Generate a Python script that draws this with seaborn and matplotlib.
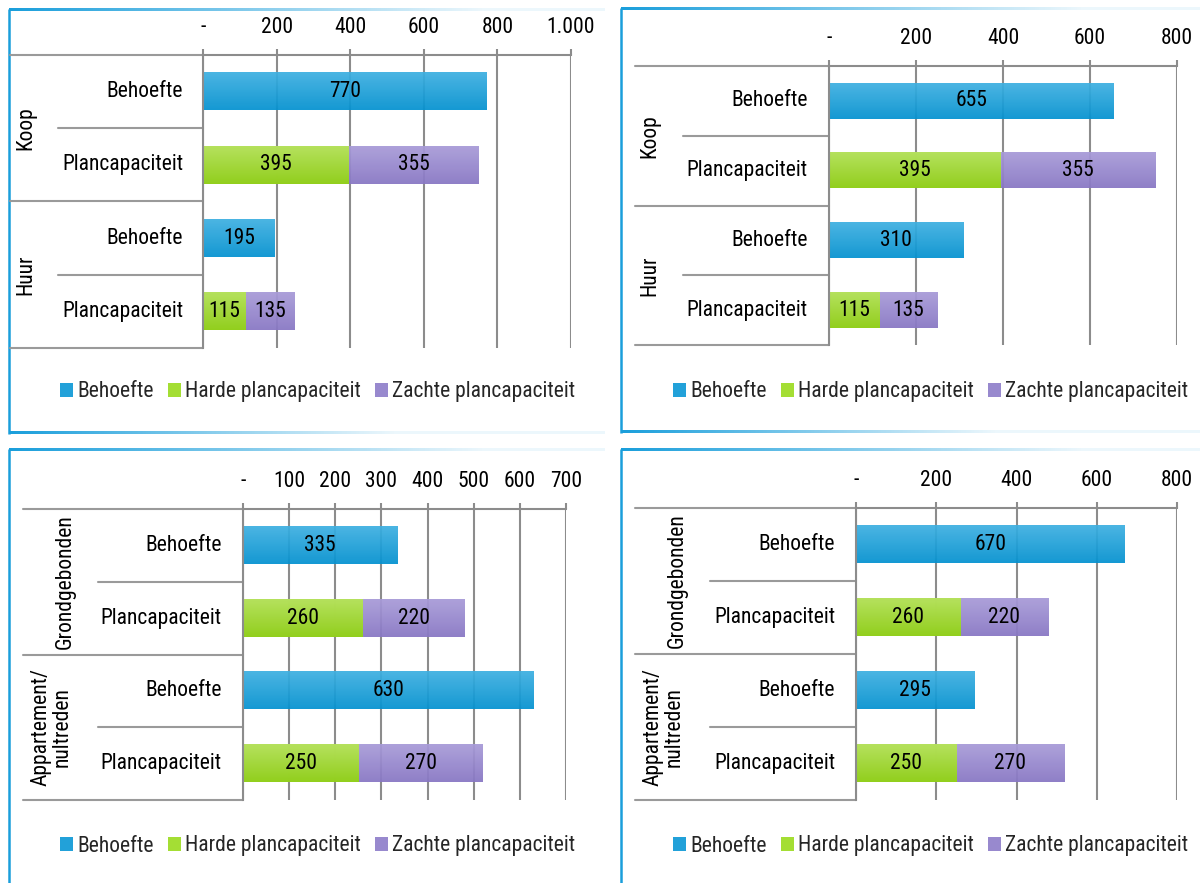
import numpy as np
import pandas as pd
import matplotlib
matplotlib.use("Agg")
import matplotlib.pyplot as plt
import seaborn as sns
from matplotlib import font_manager as fm
from matplotlib.patches import Patch
from matplotlib.lines import Line2D
from matplotlib import transforms
from matplotlib.colors import to_rgb

# ---------------------------------------------------------------- data
series_names = ["Behoefte", "Harde plancapaciteit", "Zachte plancapaciteit"]
row_labels = ["Behoefte", "Plancapaciteit"]

groups_tl = ["Koop", "Huur"]
behoefte_tl = [770, 195]
harde_tl = [395, 115]
zachte_tl = [355, 135]
ticks_tl = [0, 200, 400, 600, 800, 1000]

groups_tr = ["Koop", "Huur"]
behoefte_tr = [655, 310]
harde_tr = [395, 115]
zachte_tr = [355, 135]
ticks_tr = [0, 200, 400, 600, 800]

groups_bl = ["Grondgebonden", "Appartement/\nnultreden"]
behoefte_bl = [335, 630]
harde_bl = [260, 250]
zachte_bl = [220, 270]
ticks_bl = [0, 100, 200, 300, 400, 500, 600, 700]

groups_br = ["Grondgebonden", "Appartement/\nnultreden"]
behoefte_br = [670, 295]
harde_br = [260, 250]
zachte_br = [220, 270]
ticks_br = [0, 200, 400, 600, 800]

# ---------------------------------------------------------------- style
W, H = 1200, 883
sns.set_theme(style="white")


def pick_narrow_font():
    """Prefer a condensed sans face; fall back to Roboto."""
    faces = fm.fontManager.ttflist
    by_name = {f.name for f in faces}
    for name in ("Roboto Condensed", "Liberation Sans Narrow", "Open Sans Condensed",
                 "Noto Sans Condensed", "Arial Narrow"):
        if name in by_name:
            return name, "normal"
    for f in faces:
        if f.name in ("DejaVu Sans", "Noto Sans", "Open Sans", "Roboto") and \
                str(f.stretch).lower() in ("condensed", "semi-condensed", "75", "87"):
            return f.name, "condensed"
    return "Roboto", "normal"


FONT, STRETCH = pick_narrow_font()
plt.rcParams["font.family"] = [FONT, "DejaVu Sans"]
plt.rcParams["font.stretch"] = STRETCH
FS = 15.5
GRID = "#8c8c8c"
SEP = "#9a9a9a"
BORDER = np.array([0.10, 0.62, 0.86])

# (top colour, bottom colour) of each series' gradient
GRADS = {
    "Behoefte": ("#3fb0e1", "#0592d0"),
    "Harde plancapaciteit": ("#b6e655", "#93d512"),
    "Zachte plancapaciteit": ("#a89bd8", "#8877c4"),
}
MID = {k: tuple((np.array(to_rgb(a)) + np.array(to_rgb(b))) / 2) for k, (a, b) in GRADS.items()}

fig = plt.figure(figsize=(W / 100, H / 100), dpi=100)
fig.patch.set_facecolor("white")

# full-figure overlay in pixel units for frames and label columns
bg = fig.add_axes([0, 0, 1, 1], zorder=-5)
bg.set_xlim(0, W)
bg.set_ylim(H, 0)
bg.axis("off")


def fade_line(x0, x1, y, fade_frac):
    n = 400
    t = np.clip(np.linspace(0, 1, n) / fade_frac, 0, 1)
    alpha = 1.0 - 0.92 * t
    rgba = np.zeros((1, n, 4))
    rgba[0, :, :3] = BORDER
    rgba[0, :, 3] = alpha
    bg.imshow(rgba, extent=(x0, x1, y + 1.1, y - 1.1), aspect="auto",
              interpolation="bilinear", zorder=1)


def frame(left, top, bottom, right):
    bg.plot([left, left], [top - 1, bottom + 1], color=BORDER, lw=1.8,
            solid_capstyle="butt")
    fade_line(left, right, top, 0.8)
    if bottom < H:
        fade_line(left, right, bottom, 0.65)


frame(9, 10, 433, 605)
frame(621, 9, 432, 1200)
frame(9, 450, 900, 605)
frame(621, 450, 900, 1200)
bg.set_xlim(0, W)
bg.set_ylim(H, 0)


def fmt_tick(v):
    return "-" if v == 0 else f"{v:,}".replace(",", ".")


def draw_panel(groups, behoefte, harde, zachte, ticks, lay):
    x0p, x1p, y0p, y1p = lay["zero"], lay["right"], lay["top"], lay["bottom"]
    ax = fig.add_axes([x0p / W, 1 - y1p / H, (x1p - x0p) / W, (y1p - y0p) / H])
    ax.patch.set_visible(False)

    keys = []
    for g in groups:
        keys += [f"{g}|{r}" for r in row_labels]

    df_b = pd.DataFrame({"row": [f"{g}|Behoefte" for g in groups], "value": behoefte})
    df_p = pd.DataFrame({
        "row": [f"{g}|Plancapaciteit" for g in groups],
        "harde": harde,
        "zachte": zachte,
    })
    df_p["totaal"] = df_p["harde"] + df_p["zachte"]

    bw = 0.51
    sns.barplot(data=df_p, x="totaal", y="row", order=keys, orient="h",
                color=MID["Zachte plancapaciteit"], width=bw, ax=ax, errorbar=None,
                saturation=1)
    n_z = len(ax.patches)
    sns.barplot(data=df_p, x="harde", y="row", order=keys, orient="h",
                color=MID["Harde plancapaciteit"], width=bw, ax=ax, errorbar=None,
                saturation=1)
    n_h = len(ax.patches)
    sns.barplot(data=df_b, x="value", y="row", order=keys, orient="h",
                color=MID["Behoefte"], width=bw, ax=ax, errorbar=None,
                saturation=1)
    names = (["Zachte plancapaciteit"] * n_z + ["Harde plancapaciteit"] * (n_h - n_z)
             + ["Behoefte"] * (len(ax.patches) - n_h))

    # vertical colour gradient on every bar
    for p, name in zip(list(ax.patches), names):
        w = p.get_width()
        if not np.isfinite(w) or w <= 0:
            continue
        top_c, bot_c = (np.array(to_rgb(c)) for c in GRADS[name])
        t = np.linspace(0, 1, 64)[:, None]
        img = (top_c[None, :] * (1 - t) + bot_c[None, :] * t)[:, None, :]
        y, h = p.get_y(), p.get_height()
        ax.imshow(img, extent=(p.get_x(), p.get_x() + w, y + h, y), origin="upper",
                  aspect="auto", zorder=2, alpha=0.94, interpolation="bilinear")
        p.set_alpha(0)

    xmax = ticks[-1]
    ax.set_xlim(0, xmax)
    ax.set_ylim(len(keys) - 0.5, -0.5)
    ax.set_xlabel("")
    ax.set_ylabel("")

    # value labels
    for i, g in enumerate(groups):
        yb = keys.index(f"{g}|Behoefte")
        yp = keys.index(f"{g}|Plancapaciteit")
        ax.text(behoefte[i] / 2, yb, str(behoefte[i]), ha="center", va="center",
                fontsize=FS, color="black", zorder=4)
        ax.text(harde[i] / 2, yp, str(harde[i]), ha="center", va="center",
                fontsize=FS, color="black", zorder=4)
        ax.text(harde[i] + zachte[i] / 2, yp, str(zachte[i]), ha="center", va="center",
                fontsize=FS, color="black", zorder=4)

    # axes, grid and ticks on top
    ax.set_xticks(ticks)
    ax.set_xticklabels([fmt_tick(v) for v in ticks])
    ax.xaxis.grid(True, color=GRID, lw=1.5, zorder=1)
    ax.set_axisbelow(True)
    ax.tick_params(axis="x", top=True, bottom=False, labeltop=True, labelbottom=False,
                   length=4, width=1.5, color=GRID, pad=8, labelsize=FS,
                   labelcolor="black")
    ax.tick_params(axis="y", left=False, labelleft=False)
    for side in ("right", "bottom"):
        ax.spines[side].set_visible(False)
    for side in ("top", "left"):
        ax.spines[side].set_color(GRID)
        ax.spines[side].set_linewidth(1.5)

    # label columns left of the bars
    blend = transforms.blended_transform_factory(bg.transData, ax.transData)
    n = len(keys)
    bounds = [-0.5 + k for k in range(n + 1)]
    for k, yv in enumerate(bounds):
        xl = lay["grp_left"] if k % 2 == 0 else lay["sub_left"]
        ax.add_artist(Line2D([xl, x0p], [yv, yv], transform=blend, color=SEP,
                             lw=1.5, clip_on=False))
    for k, key in enumerate(keys):
        ax.text(lay["sub_right"], k, key.split("|")[1], transform=blend,
                ha="right", va="center", fontsize=FS, color="black", clip_on=False)
    for i, g in enumerate(groups):
        xg = lay["grp_x2"] if "\n" in g else lay["grp_x"]
        ax.text(xg, 2 * i + 0.5, g, transform=blend, rotation=90, ha="center",
                va="center", multialignment="center", fontsize=FS, color="black",
                linespacing=1.0, clip_on=False)

    # legend
    handles = [Patch(facecolor=MID[s], edgecolor="none") for s in series_names]
    ax.legend(handles, series_names, loc="center", ncol=3, frameon=False,
              bbox_to_anchor=(lay["leg_x"] / W, 1 - lay["leg_y"] / H),
              bbox_transform=fig.transFigure, fontsize=FS, handlelength=0.6,
              handleheight=0.6, handletextpad=0.2, columnspacing=0.65,
              borderaxespad=0)
    return ax


draw_panel(groups_tl, behoefte_tl, harde_tl, zachte_tl, ticks_tl,
           dict(zero=203, right=571, top=55, bottom=348, grp_left=10, sub_left=58,
                grp_x=26, grp_x2=26, sub_right=183, leg_x=318, leg_y=392))
draw_panel(groups_tr, behoefte_tr, harde_tr, zachte_tr, ticks_tr,
           dict(zero=829, right=1177, top=66, bottom=345, grp_left=635, sub_left=683,
                grp_x=650, grp_x2=650, sub_right=808, leg_x=931, leg_y=392))
draw_panel(groups_bl, behoefte_bl, harde_bl, zachte_bl, ticks_bl,
           dict(zero=243, right=566, top=509, bottom=800, grp_left=23, sub_left=98,
                grp_x=65, grp_x2=52, sub_right=222, leg_x=318, leg_y=846))
draw_panel(groups_br, behoefte_br, harde_br, zachte_br, ticks_br,
           dict(zero=856, right=1177, top=508, bottom=800, grp_left=635, sub_left=710,
                grp_x=677, grp_x2=664, sub_right=835, leg_x=931, leg_y=846))

fig.savefig("out.png", dpi=100, facecolor="white")
